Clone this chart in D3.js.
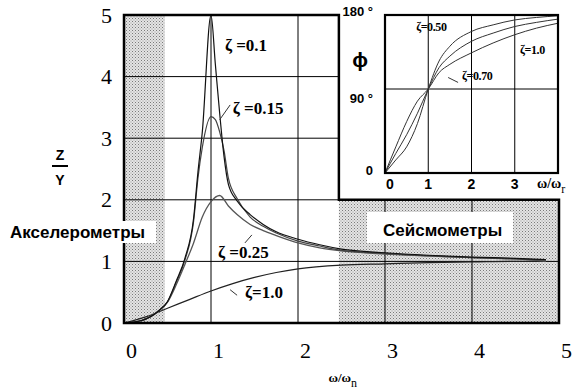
<!DOCTYPE html>
<html>
<head>
<meta charset="utf-8">
<script src="https://cdn.jsdelivr.net/npm/d3@7"></script>
<style>
  body { margin: 0; background: #fff; }
  svg { display: block; }
</style>
</head>
<body>
<svg id="chart" width="579" height="389"></svg>
<script>
// ---- data ----
const mainTicks = [0, 1, 2, 3, 4, 5];

// zeta = 0.1
const r010 = [0, 0.2, 0.4, 0.5, 0.6, 0.7, 0.8, 0.85, 0.9, 1.0, 1.05, 1.1, 1.15, 1.2, 1.3, 1.45, 1.6, 1.75, 2.0, 2.25, 2.5, 3.0, 3.5, 4.0, 4.5, 4.85];
const z010 = [0, 0.04, 0.2, 0.35, 0.68, 1.05, 1.7, 2.45, 3.1, 5.0, 4.2, 3.4, 2.7, 2.25, 1.98, 1.76, 1.6, 1.48, 1.36, 1.27, 1.2, 1.14, 1.1, 1.07, 1.05, 1.03];
// zeta = 0.15
const r015 = [0, 0.2, 0.4, 0.5, 0.6, 0.7, 0.8, 0.85, 0.9, 1.0, 1.05, 1.1, 1.15, 1.2, 1.3, 1.45, 1.6, 1.75, 2.0, 2.25, 2.5, 3.0, 3.5, 4.0, 4.5, 4.85];
const z015 = [0, 0.04, 0.2, 0.34, 0.66, 1.02, 1.65, 2.35, 2.85, 3.35, 3.3, 3.1, 2.8, 2.35, 2.02, 1.72, 1.57, 1.46, 1.33, 1.25, 1.18, 1.13, 1.09, 1.06, 1.04, 1.02];
// zeta = 0.25
const r025 = [0, 0.2, 0.4, 0.5, 0.6, 0.7, 0.8, 0.9, 1.0, 1.1, 1.2, 1.3, 1.45, 1.6, 1.75, 2.0, 2.25, 2.5, 3.0, 3.5, 4.0, 4.5, 4.85];
const z025 = [0, 0.04, 0.2, 0.34, 0.62, 0.95, 1.3, 1.72, 1.97, 2.07, 1.9, 1.76, 1.6, 1.5, 1.42, 1.3, 1.22, 1.17, 1.12, 1.09, 1.06, 1.04, 1.0];
// zeta = 1.0
const r100 = [0, 0.25, 0.5, 0.75, 1.0, 1.25, 1.5, 1.75, 2.0, 2.5, 3.0, 3.5, 4.0, 4.5, 4.85];
const z100 = [0, 0.1, 0.24, 0.38, 0.52, 0.64, 0.74, 0.82, 0.88, 0.94, 0.96, 0.98, 0.99, 1.0, 1.0];

// inset: phase angle, degrees
const insetXTicks = [0, 1, 2, 3];
const insetYTicks = [0, 90, 180];
const rPhase = [0, 0.25, 0.5, 0.75, 1.0, 1.25, 1.5, 2.0, 2.5, 3.0, 3.5, 4.0];
const phi050 = [0, 14, 28, 53, 90, 124, 142, 160, 168, 174, 177, 179];
const phi070 = [0, 21, 41, 64, 90, 116, 130, 148, 158, 166, 171, 175];
const phi100 = [0, 28, 55, 77, 90, 110, 120, 134, 146, 156, 164, 170];

// regions
const accelBand = [0, 0.47];
const seisBand = [2.47, 5];
const seisTop = 2;

// ---- drawing ----
const svg = d3.select('#chart');
const x = d3.scaleLinear().domain([0, 5]).range([124, 559]);
const y = d3.scaleLinear().domain([0, 5]).range([323, 15]);
const xi = d3.scaleLinear().domain([0, 4]).range([385, 558]);
const yi = d3.scaleLinear().domain([0, 90, 180]).range([173, 89, 15]);

const defs = svg.append('defs');
const pat = defs.append('pattern')
    .attr('id', 'dots')
    .attr('width', 3).attr('height', 3)
    .attr('patternUnits', 'userSpaceOnUse');
pat.append('rect').attr('width', 3).attr('height', 3).attr('fill', '#e4e4e4');
pat.append('rect').attr('width', 1).attr('height', 1).attr('fill', '#7a7a7a');
pat.append('rect').attr('x', 1.5).attr('y', 1.5).attr('width', 1).attr('height', 1).attr('fill', '#9a9a9a');

// shaded zones
svg.append('rect')
    .attr('x', x(accelBand[0])).attr('y', y(5))
    .attr('width', x(accelBand[1]) - x(accelBand[0]))
    .attr('height', y(0) - y(5))
    .attr('fill', 'url(#dots)');
svg.append('rect')
    .attr('x', x(seisBand[0])).attr('y', y(seisTop))
    .attr('width', x(seisBand[1]) - x(seisBand[0]))
    .attr('height', y(0) - y(seisTop))
    .attr('fill', 'url(#dots)');

// grid of the main plot (cut by the inset corner)
const grid = svg.append('g').attr('stroke', '#000').attr('stroke-width', 1);
grid.selectAll('line.v')
    .data(mainTicks.filter(d => d > 0 && d < 5))
    .enter().append('line')
    .attr('x1', d => x(d)).attr('x2', d => x(d))
    .attr('y1', d => d > seisBand[0] ? y(seisTop) : y(5))
    .attr('y2', y(0));
grid.selectAll('line.h')
    .data(mainTicks.filter(d => d > 0 && d < 5))
    .enter().append('line')
    .attr('y1', d => y(d)).attr('y2', d => y(d))
    .attr('x1', x(0))
    .attr('x2', d => d > seisTop ? x(seisBand[0]) : x(5));

// curves
const line = d3.line()
    .x(d => x(d[0])).y(d => y(d[1]))
    .curve(d3.curveMonotoneX);
const curves = [
  { r: r100, z: z100, color: '#222', w: 1.2 },
  { r: r025, z: z025, color: '#555', w: 1.3 },
  { r: r015, z: z015, color: '#444', w: 1.2 },
  { r: r010, z: z010, color: '#111', w: 1.2 }
];
svg.append('g').selectAll('path')
    .data(curves)
    .enter().append('path')
    .attr('d', c => line(c.r.map((v, i) => [v, c.z[i]])))
    .attr('fill', 'none')
    .attr('stroke', c => c.color)
    .attr('stroke-width', c => c.w);

// frame of the main plot
svg.append('path')
    .attr('d', `M${x(0)},${y(5)} H${x(seisBand[0])} V${y(seisTop)} H${x(5)} V${y(0)} H${x(0)} Z`)
    .attr('fill', 'none')
    .attr('stroke', '#000')
    .attr('stroke-width', 2.5);

// main tick labels
const serif = '"Liberation Serif", "Times New Roman", serif';
const yAxis = d3.axisLeft(y).tickValues(mainTicks).tickFormat(d3.format('d')).tickSize(0).tickPadding(12);
svg.append('g').attr('transform', `translate(${x(0)},0)`).call(yAxis)
    .call(g => g.select('.domain').remove())
    .selectAll('text')
    .attr('font-family', serif)
    .attr('font-size', 22)
    .attr('fill', '#000');
const xAxis = d3.axisBottom(x).tickValues(mainTicks).tickFormat(d3.format('d')).tickSize(0).tickPadding(19);
svg.append('g').attr('transform', `translate(7,${y(0)})`).call(xAxis)
    .call(g => g.select('.domain').remove())
    .selectAll('text')
    .attr('font-family', serif)
    .attr('font-size', 22)
    .attr('fill', '#000');

// x title
const xt = svg.append('text')
    .attr('x', x(2.35)).attr('y', 382)
    .attr('font-family', serif)
    .attr('font-weight', 'bold')
    .attr('font-size', 13);
xt.append('tspan').text('ω/ω');
xt.append('tspan').attr('dy', 5).attr('font-size', 12).attr('font-weight', 'normal').text('n');

// y title Z / Y
const sans = '"Liberation Sans", Arial, sans-serif';
svg.append('text').attr('x', 60).attr('y', 160).attr('text-anchor', 'middle')
    .attr('font-family', sans).attr('font-weight', 'bold').attr('font-size', 14).text('Z');
svg.append('line').attr('x1', 52).attr('x2', 68).attr('y1', 166).attr('y2', 166)
    .attr('stroke', '#000').attr('stroke-width', 2);
svg.append('text').attr('x', 60).attr('y', 185).attr('text-anchor', 'middle')
    .attr('font-family', sans).attr('font-weight', 'bold').attr('font-size', 14).text('Y');

// curve labels of the main plot
const mainLabels = [
  { t: 'ζ =0.1', x: 1.16, y: 4.42 },
  { t: 'ζ =0.15', x: 1.25, y: 3.39 },
  { t: 'ζ =0.25', x: 1.08, y: 1.06 },
  { t: 'ζ=1.0', x: 1.39, y: 0.41 }
];
svg.append('g').selectAll('text')
    .data(mainLabels)
    .enter().append('text')
    .attr('x', d => x(d.x)).attr('y', d => y(d.y))
    .attr('font-family', serif)
    .attr('font-weight', 'bold')
    .attr('font-size', 17)
    .text(d => d.t);
const mainLeaders = [
  [[1.10, 3.30], [1.22, 3.54]],
  [[1.39, 1.30], [1.47, 1.43]],
  [[1.22, 0.54], [1.30, 0.45]]
];
svg.append('g').selectAll('line')
    .data(mainLeaders)
    .enter().append('line')
    .attr('x1', d => x(d[0][0])).attr('y1', d => y(d[0][1]))
    .attr('x2', d => x(d[1][0])).attr('y2', d => y(d[1][1]))
    .attr('stroke', '#333').attr('stroke-width', 1);

// zone names
svg.append('rect').attr('x', 8).attr('y', 221).attr('width', 148).attr('height', 22).attr('fill', '#fff');
svg.append('text').attr('x', 10).attr('y', 238)
    .attr('font-family', sans).attr('font-weight', 'bold').attr('font-size', 17)
    .text('Акселерометры');
svg.append('rect').attr('x', 367).attr('y', 212).attr('width', 146).attr('height', 31).attr('fill', '#fff');
svg.append('text').attr('x', 383).attr('y', 236)
    .attr('font-family', sans).attr('font-weight', 'bold').attr('font-size', 17)
    .text('Сейсмометры');

// ---- inset: phase ----
const ig = svg.append('g');
ig.append('g').attr('stroke', '#000').attr('stroke-width', 1)
    .selectAll('line.v')
    .data(insetXTicks.filter(d => d > 0))
    .enter().append('line')
    .attr('x1', d => xi(d)).attr('x2', d => xi(d))
    .attr('y1', yi(180)).attr('y2', yi(0));
ig.append('line')
    .attr('x1', xi(0)).attr('x2', xi(4))
    .attr('y1', yi(90)).attr('y2', yi(90))
    .attr('stroke', '#000').attr('stroke-width', 1);

const pline = d3.line()
    .x(d => xi(d[0])).y(d => yi(d[1]))
    .curve(d3.curveMonotoneX);
ig.append('g').selectAll('path')
    .data([phi050, phi070, phi100])
    .enter().append('path')
    .attr('d', p => pline(rPhase.map((v, i) => [v, p[i]])))
    .attr('fill', 'none')
    .attr('stroke', '#333')
    .attr('stroke-width', 1);

ig.append('rect')
    .attr('x', xi(0)).attr('y', yi(180))
    .attr('width', xi(4) - xi(0)).attr('height', yi(0) - yi(180))
    .attr('fill', 'none').attr('stroke', '#000').attr('stroke-width', 2.2);

const insetLabels = [
  { t: 'ζ=0.50', x: 0.72, y: 160 },
  { t: 'ζ=0.70', x: 1.78, y: 101 },
  { t: 'ζ=1.0', x: 3.12, y: 132 }
];
ig.append('g').selectAll('text')
    .data(insetLabels)
    .enter().append('text')
    .attr('x', d => xi(d.x)).attr('y', d => yi(d.y))
    .attr('font-family', serif)
    .attr('font-weight', 'bold')
    .attr('font-size', 12)
    .attr('letter-spacing', -0.4)
    .text(d => d.t);
ig.append('line')
    .attr('x1', xi(1.46)).attr('y1', yi(104))
    .attr('x2', xi(1.69)).attr('y2', yi(98))
    .attr('stroke', '#333').attr('stroke-width', 1);

// inset tick labels
const yNudge = { 0: 2, 90: 14, 180: 1 };
ig.append('g').selectAll('text')
    .data(insetYTicks)
    .enter().append('text')
    .attr('x', xi(0) - 12).attr('y', d => yi(d) + yNudge[d])
    .attr('text-anchor', 'end')
    .attr('font-family', sans).attr('font-weight', 'bold').attr('font-size', 13)
    .text(d => d === 0 ? '0' : d + ' °');
ig.append('g').selectAll('text')
    .data(insetXTicks)
    .enter().append('text')
    .attr('x', d => xi(d) + (d === 0 ? 5 : 0)).attr('y', 189)
    .attr('text-anchor', 'middle')
    .attr('font-family', sans).attr('font-weight', 'bold').attr('font-size', 14)
    .text(d => d);
const it = ig.append('text').attr('x', 537).attr('y', 188)
    .attr('font-family', serif)
    .attr('font-weight', 'bold').attr('font-size', 14);
it.append('tspan').text('ω/ω');
it.append('tspan').attr('dy', 5).attr('font-size', 12).attr('font-weight', 'normal').text('r');
ig.append('text').attr('x', 360).attr('y', 67).attr('text-anchor', 'middle')
    .attr('font-family', sans).attr('font-weight', 'bold').attr('font-size', 21)
    .text('ϕ');
</script>
</body>
</html>
